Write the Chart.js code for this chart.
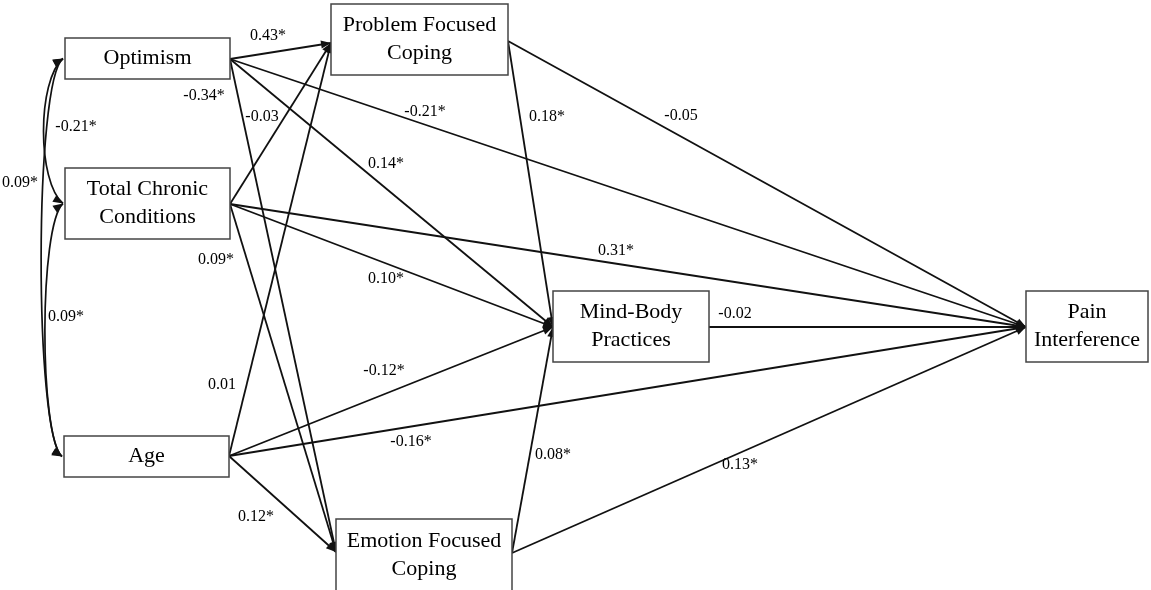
<!DOCTYPE html>
<html>
<head>
<meta charset="utf-8">
<title>Path model</title>
<script src="https://cdn.jsdelivr.net/npm/chart.js@4"></script>
<style>
  html, body { margin: 0; padding: 0; background: #fff; }
  #wrap { width: 1151px; height: 590px; position: relative; }
</style>
</head>
<body>
<div id="wrap"><canvas id="pathChart"></canvas></div>
<script>
// Variables in the model
const nodeKeys = ["opt", "tcc", "age", "pfc", "efc", "mbp", "pain"];
const nodeText = [
  ["Optimism"],
  ["Total Chronic", "Conditions"],
  ["Age"],
  ["Problem Focused", "Coping"],
  ["Emotion Focused", "Coping"],
  ["Mind-Body", "Practices"],
  ["Pain", "Interference"]
];

// Directed paths and their standardized coefficients
const pathFrom = ["opt", "opt", "opt", "opt", "tcc", "tcc", "tcc", "tcc", "age", "age", "age", "age", "pfc", "pfc", "efc", "efc", "mbp"];
const pathTo   = ["pfc", "efc", "mbp", "pain", "pfc", "efc", "mbp", "pain", "pfc", "efc", "mbp", "pain", "mbp", "pain", "mbp", "pain", "pain"];
const pathCoef = ["0.43*", "-0.34*", "0.14*", "-0.21*", "-0.03", "0.09*", "0.10*", "0.31*", "0.01", "0.12*", "-0.12*", "-0.16*", "0.18*", "-0.05", "0.08*", "0.13*", "-0.02"];

// Correlations between exogenous variables
const corrA = ["opt", "tcc", "opt"];
const corrB = ["tcc", "age", "age"];
const corrCoef = ["-0.21*", "0.09*", "0.09*"];

// ---- layout (diagram units, origin top-left) ----
const boxes = {
  opt:  { x0: 65,   y0: 38,  x1: 230,  y1: 79 },
  tcc:  { x0: 65,   y0: 168, x1: 230,  y1: 239 },
  age:  { x0: 64,   y0: 436, x1: 229,  y1: 477 },
  pfc:  { x0: 331,  y0: 4,   x1: 508,  y1: 75 },
  efc:  { x0: 336,  y0: 519, x1: 512,  y1: 592 },
  mbp:  { x0: 553,  y0: 291, x1: 709,  y1: 362 },
  pain: { x0: 1026, y0: 291, x1: 1148, y1: 362 }
};
const outPort = {
  opt: [230, 59], tcc: [230, 204], age: [229, 456],
  pfc: [508, 41], efc: [512, 553], mbp: [709, 327]
};
const inPort = {
  pfc: [331, 43], efc: [336, 552], mbp: [553, 327], pain: [1026, 327]
};
const pathLabelPos = [
  [268, 36], [204, 96], [386, 164], [425, 112],
  [262, 117], [216, 260], [386, 279], [616, 251],
  [222, 385], [256, 517], [384, 371], [411, 442],
  [547, 117], [681, 116], [553, 455], [740, 465], [735, 314]
];
const corrLabelPos = [[76, 127], [66, 317], [20, 183]];
const corrBend = [37, 39, 34];

const INK = "#111";
const serif = "'Liberation Serif', 'Times New Roman', serif";

const pathDatasets = pathFrom.map((f, i) => ({
  label: f + "-" + pathTo[i],
  data: [
    { x: outPort[f][0], y: outPort[f][1] },
    { x: inPort[pathTo[i]][0], y: inPort[pathTo[i]][1] }
  ],
  showLine: true,
  borderColor: INK,
  borderWidth: 1.8,
  pointRadius: 0,
  pointHoverRadius: 0
}));

function arrowHead(ctx, x1, y1, x2, y2) {
  const a = Math.atan2(y2 - y1, x2 - x1);
  const len = 10, half = 4;
  ctx.save();
  ctx.translate(x2, y2);
  ctx.rotate(a);
  ctx.beginPath();
  ctx.moveTo(0, 0);
  ctx.lineTo(-len, -half);
  ctx.lineTo(-len, half);
  ctx.closePath();
  ctx.fillStyle = INK;
  ctx.fill();
  ctx.restore();
}

const diagramPlugin = {
  id: "diagram",
  afterDatasetsDraw(chart) {
    const ctx = chart.ctx;
    const xs = chart.scales.x, ys = chart.scales.y;
    const px = v => xs.getPixelForValue(v);
    const py = v => ys.getPixelForValue(v);

    // arrowheads on the directed paths
    pathFrom.forEach((f, i) => {
      const s = outPort[f], t = inPort[pathTo[i]];
      arrowHead(ctx, px(s[0]), py(s[1]), px(t[0]), py(t[1]));
    });

    // two-headed correlation curves on the left
    ctx.save();
    ctx.strokeStyle = INK;
    ctx.lineWidth = 1.7;
    corrA.forEach((a, i) => {
      const b = corrB[i];
      const ya = (boxes[a].y0 + boxes[a].y1) / 2;
      const yb = (boxes[b].y0 + boxes[b].y1) / 2;
      const xa = boxes[a].x0 - 2, xb = boxes[b].x0 - 2;
      const c = corrBend[i];
      ctx.beginPath();
      ctx.moveTo(px(xa), py(ya));
      ctx.bezierCurveTo(px(c), py(ya + 22), px(c), py(yb - 22), px(xb), py(yb));
      ctx.stroke();
      arrowHead(ctx, px(c + 6), py(ya + 12), px(xa), py(ya));
      arrowHead(ctx, px(c + 6), py(yb - 12), px(xb), py(yb));
    });
    ctx.restore();

    // variable boxes
    ctx.save();
    nodeKeys.forEach((k, i) => {
      const b = boxes[k];
      const x0 = px(b.x0), y0 = py(b.y0), x1 = px(b.x1), y1 = py(b.y1);
      ctx.fillStyle = "#fff";
      ctx.fillRect(x0, y0, x1 - x0, y1 - y0);
      ctx.strokeStyle = "#444";
      ctx.lineWidth = 1.5;
      ctx.strokeRect(x0, y0, x1 - x0, y1 - y0);
      ctx.fillStyle = "#000";
      ctx.font = "22px " + serif;
      ctx.textAlign = "center";
      ctx.textBaseline = "middle";
      const lines = nodeText[i];
      const lh = 28;
      const cx = (x0 + x1) / 2, cy = (y0 + y1) / 2;
      lines.forEach((t, j) => {
        ctx.fillText(t, cx, cy + (j - (lines.length - 1) / 2) * lh);
      });
    });

    // coefficient labels
    ctx.font = "16px " + serif;
    ctx.fillStyle = "#000";
    ctx.textAlign = "center";
    ctx.textBaseline = "middle";
    pathCoef.forEach((c, i) => {
      ctx.fillText(c, px(pathLabelPos[i][0]), py(pathLabelPos[i][1]));
    });
    corrCoef.forEach((c, i) => {
      ctx.fillText(c, px(corrLabelPos[i][0]), py(corrLabelPos[i][1]));
    });
    ctx.restore();
  }
};

document.addEventListener("DOMContentLoaded", function () {
  const ctx = document.getElementById("pathChart").getContext("2d");
  new Chart(ctx, {
    type: "scatter",
    data: { datasets: pathDatasets },
    options: {
      responsive: true,
      maintainAspectRatio: false,
      animation: false,
      layout: { padding: 0 },
      plugins: {
        legend: { display: false },
        tooltip: { enabled: false }
      },
      scales: {
        x: { type: "linear", min: 0, max: 1151, display: false },
        y: { type: "linear", min: 0, max: 590, reverse: true, display: false }
      }
    },
    plugins: [diagramPlugin]
  });
});
</script>
</body>
</html>
